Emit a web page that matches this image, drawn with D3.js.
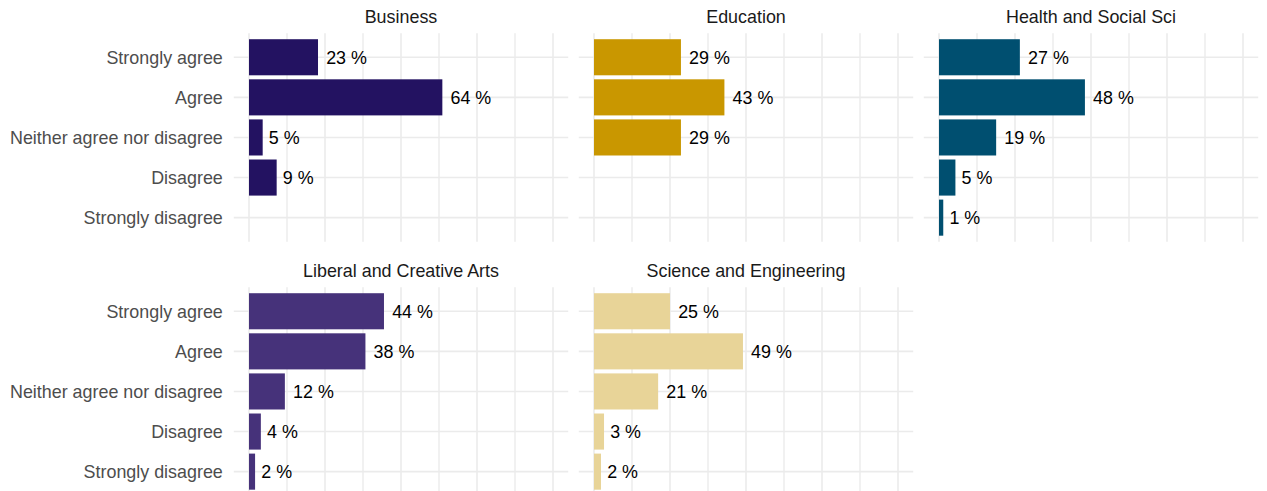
<!DOCTYPE html>
<html>
<head>
<meta charset="utf-8">
<script src="https://cdn.jsdelivr.net/npm/d3@7"></script>
<style>
  html, body { margin: 0; padding: 0; background: #fff; }
  svg { display: block; font-family: "Liberation Sans", Arial, Helvetica, sans-serif; }
</style>
</head>
<body>
<svg id="chart" width="1267" height="491"></svg>
<script>
// ---- data ----
const categories = ["Strongly agree", "Agree", "Neither agree nor disagree", "Disagree", "Strongly disagree"];
const faculties = ["Business", "Education", "Health and Social Sci", "Liberal and Creative Arts", "Science and Engineering"];
const colors = ["#231261", "#C99700", "#004F70", "#46327A", "#E8D498"];
// shares per category (null = no response in that category)
const business  = [0.227, 0.636, 0.045, 0.091, null];
const education = [0.286, 0.429, 0.286, null, null];
const health    = [0.266, 0.480, 0.188, 0.054, 0.014];
const liberal   = [0.444, 0.383, 0.118, 0.039, 0.020];
const science   = [0.250, 0.490, 0.211, 0.033, 0.023];
const seriesValues = [business, education, health, liberal, science];
const xBreaksMajor = [0, 0.25, 0.5, 0.75, 1];
const xBreaksMinor = [0.125, 0.375, 0.625, 0.875];

// ---- layout ----
const svg = d3.select("#chart");
svg.append("rect").attr("width", 1267).attr("height", 491).attr("fill", "#fff");

const ncol = 3;
const panelW = 334.4, panelH = 208.5;
const colLeft = [233.8, 578.8, 923.8];
const rowTop = [33.2, 287.2];
const fontSize = 17.9;

faculties.forEach((fac, fi) => {
  const col = fi % ncol, row = Math.floor(fi / ncol);
  const left = colLeft[col], top = rowTop[row];
  const g = svg.append("g").attr("transform", `translate(${left},${top})`);

  const x = d3.scaleLinear().domain([-0.05, 1.05]).range([0, panelW]);
  const y = d3.scaleBand().domain(categories).range([0, panelH]).paddingInner(0.1).paddingOuter(0.15);

  // grid
  const grid = g.append("g");
  grid.selectAll("line.minor").data(xBreaksMinor).join("line")
    .attr("x1", d => x(d)).attr("x2", d => x(d)).attr("y1", 0).attr("y2", panelH)
    .attr("stroke", "#EBEBEB").attr("stroke-width", 1.4);
  grid.selectAll("line.major").data(xBreaksMajor).join("line")
    .attr("x1", d => x(d)).attr("x2", d => x(d)).attr("y1", 0).attr("y2", panelH)
    .attr("stroke", "#EBEBEB").attr("stroke-width", 1.6);
  grid.selectAll("line.h").data(categories).join("line")
    .attr("x1", 0).attr("x2", panelW)
    .attr("y1", d => y(d) + y.bandwidth() / 2).attr("y2", d => y(d) + y.bandwidth() / 2)
    .attr("stroke", "#EBEBEB").attr("stroke-width", 1.6);

  const data = categories.map((c, i) => ({ cat: c, v: seriesValues[fi][i] })).filter(d => d.v != null);

  g.selectAll("rect.bar").data(data).join("rect")
    .attr("x", x(0)).attr("y", d => y(d.cat))
    .attr("width", d => x(d.v) - x(0)).attr("height", y.bandwidth())
    .attr("fill", colors[fi]);

  const labels = g.selectAll("text.val").data(data).join("text")
    .attr("y", d => y(d.cat) + y.bandwidth() / 2)
    .attr("dy", "0.35em")
    .attr("font-size", fontSize)
    .attr("fill", "#000")
    .text(d => Math.round(d.v * 100) + " %");
  labels.each(function(d) {
    const w = this.getComputedTextLength();
    d3.select(this).attr("x", x(d.v) + 0.2 * w);
  });

  // strip title
  g.append("text")
    .attr("x", panelW / 2).attr("y", -16.5).attr("dy", "0.35em")
    .attr("text-anchor", "middle").attr("font-size", fontSize).attr("fill", "#1A1A1A")
    .text(fac);

  // y-axis labels on first column
  if (col === 0) {
    g.selectAll("text.ylab").data(categories).join("text")
      .attr("x", -11).attr("y", d => y(d) + y.bandwidth() / 2).attr("dy", "0.35em")
      .attr("text-anchor", "end").attr("font-size", fontSize).attr("fill", "#4D4D4D")
      .text(d => d);
  }
});
</script>
</body>
</html>
